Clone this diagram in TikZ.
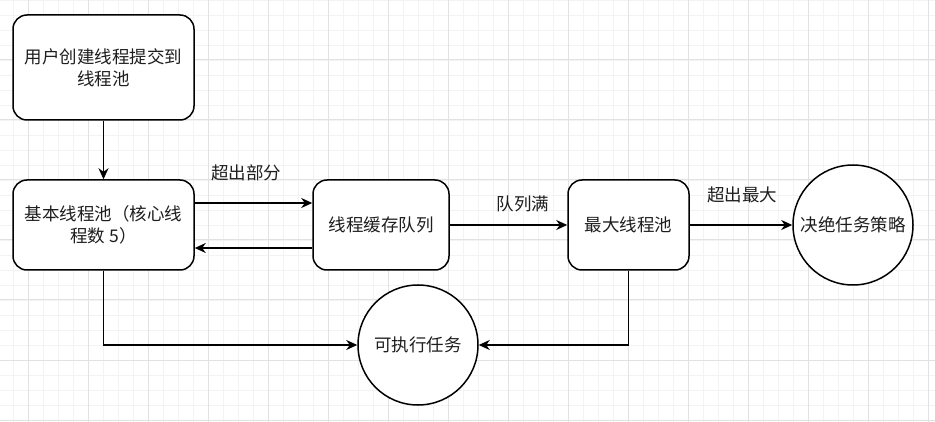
\documentclass[tikz,border=0pt]{standalone}
\usepackage{fontspec}
\setmainfont{Noto Sans CJK SC}
\usetikzlibrary{arrows.meta}
\definecolor{minorgrid}{HTML}{F3F3F3}
\definecolor{majorgrid}{HTML}{E2E2E2}
\definecolor{txt}{HTML}{1E1E1E}
\tikzset{
  box/.style={draw=black, line width=1.5pt, rounded corners=14pt, fill=white, align=center,
    text=txt, font=\fontsize{17.5}{22}\selectfont, inner sep=0pt},
  circ/.style={draw=black, line width=1.5pt, circle, fill=white, minimum size=120pt, inner sep=0pt,
    text=txt, font=\fontsize{17.5}{22}\selectfont},
  conn/.style={line width=1.5pt, -{Stealth[length=11pt, width=10pt, inset=3.5pt]}},
  lbl/.style={text=txt, font=\fontsize{17.5}{22}\selectfont, inner sep=0pt}
}
\begin{document}
\begin{tikzpicture}[x=1pt, y=-1pt]
\useasboundingbox (0,0) rectangle (935,422);
\fill[white] (0,0) rectangle (935,422);
% minor grid
\foreach \x in {13,28,...,935} \draw[minorgrid, line width=0.8pt] (\x,0) -- (\x,422);
\foreach \y in {0,15,...,422} \draw[minorgrid, line width=0.8pt] (0,\y) -- (935,\y);
% major grid
\foreach \x in {28,88,...,935} \draw[majorgrid, line width=1pt] (\x,0) -- (\x,422);
\foreach \y in {0,60,...,422} \draw[majorgrid, line width=1pt] (0,\y) -- (935,\y);

\node[box, minimum width=181pt, minimum height=105pt] (user) at (103.5,67.5) {用户创建线程提交到\\线程池};
\node[box, minimum width=181pt, minimum height=90pt] (core) at (103.5,225) {基本线程池（核心线\\程数 5）};
\node[box, minimum width=136pt, minimum height=90pt] (queue) at (381,225) {线程缓存队列};
\node[box, minimum width=121pt, minimum height=90pt] (maxp) at (628.5,225) {最大线程池};
\node[circ] (reject) at (853,225) {决绝任务策略};
\node[circ] (exec) at (418,345) {可执行任务};

\draw[conn] (user.south) -- (core.north);
\draw[conn] (core.east |- 0,203) -- (queue.west |- 0,203);
\draw[conn] (queue.west |- 0,248) -- (core.east |- 0,248);
\draw[conn] (queue.east) -- (maxp.west);
\draw[conn] (maxp.east) -- (reject.west);
\draw[conn] (core.south) |- (exec.west);
\draw[conn] (maxp.south) |- (exec.east);

\node[lbl] (l1) at (246,173) {超出部分};
\node[lbl] (l2) at (523,204) {队列满};
\node[lbl] (l3) at (742,195) {超出最大};
\end{tikzpicture}
\end{document}
